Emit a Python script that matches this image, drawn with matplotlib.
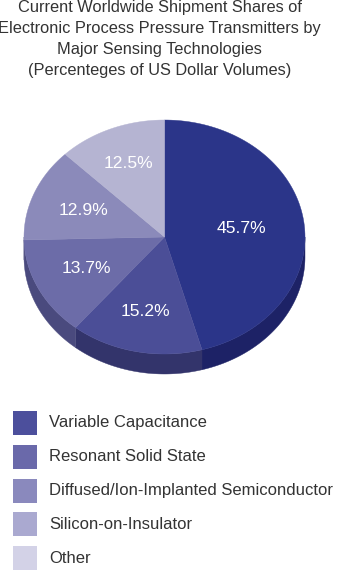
"""
3D-style pie: worldwide shipment shares of pressure transmitters by sensing technology.
"""
import matplotlib
matplotlib.use("Agg")
import matplotlib.pyplot as plt
import numpy as np
from matplotlib.patches import Polygon, Rectangle

# --- data ---
TITLE = ("Current Worldwide Shipment Shares of\n"
         "Electronic Process Pressure Transmitters by\n"
         "Major Sensing Technologies\n"
         "(Percenteges of US Dollar Volumes)")
SHARES = [45.7, 15.2, 13.7, 12.9, 12.5]
SLICE_TOP = ["#2b3589", "#4b4e97", "#6c6ca8", "#8b8aba", "#b5b4d2"]
SLICE_SIDE = ["#1d2266", "#33346b", "#4a4a7e", "#5f5e8e", "#7c7ba3"]
LEGEND_LABELS = ["Variable Capacitance", "Resonant Solid State",
                 "Diffused/Ion-Implanted Semiconductor", "Silicon-on-Insulator", "Other"]
LEGEND_COLORS = ["#4c4f9c", "#6a69aa", "#8a89bd", "#aaa9d0", "#d3d2e7"]

W, H = 338, 571
FONT = ["Liberation Sans", "DejaVu Sans"]
TXT = "#333333"

# pie geometry (pixels)
cx, cy = 164.5, 237.0
a, b = 140.5, 117.0
depth = 20.0
label_frac = [0.55, 0.65, 0.62, 0.62, 0.68]

fig = plt.figure(figsize=(W / 100, H / 100), dpi=100)
ax = fig.add_axes([0, 0, 1, 1])
ax.set_xlim(0, W)
ax.set_ylim(H, 0)
ax.axis("off")

fig.text(0.473, 1 - 39 / H, TITLE, ha="center", va="center", fontsize=11.8,
         color=TXT, family=FONT, linespacing=1.5)


def pt(theta, dz=0.0):
    return cx + a * np.cos(theta), cy - b * np.sin(theta) + dz


# angles: start at 12 o'clock, go clockwise
fracs = np.array(SHARES) / sum(SHARES)
ends = np.pi / 2 - 2 * np.pi * np.cumsum(fracs)
starts = np.concatenate([[np.pi / 2], ends[:-1]])

# side walls (front half only: sin(theta) < 0)
for i, (s, e) in enumerate(zip(starts, ends)):
    lo, hi = e, s  # e < s
    for shift in (0, -2 * np.pi, 2 * np.pi):
        l2, h2 = max(lo + shift, -np.pi), min(hi + shift, 0)
        if h2 > l2:
            t = np.linspace(l2, h2, 80)
            xs, ys = pt(t)
            top = np.column_stack([xs, ys])
            bot = np.column_stack([xs, ys + depth])[::-1]
            ax.add_patch(Polygon(np.vstack([top, bot]), closed=True,
                                 facecolor=SLICE_SIDE[i], edgecolor=SLICE_SIDE[i],
                                 lw=0.3, zorder=1))

# top faces
for i, (s, e) in enumerate(zip(starts, ends)):
    t = np.linspace(s, e, 120)
    xs, ys = pt(t)
    poly = np.vstack([[cx, cy], np.column_stack([xs, ys])])
    ax.add_patch(Polygon(poly, closed=True, facecolor=SLICE_TOP[i],
                         edgecolor=SLICE_TOP[i], lw=0.3, zorder=2))
    mid = (s + e) / 2
    lx = cx + label_frac[i] * a * np.cos(mid)
    ly = cy - label_frac[i] * b * np.sin(mid)
    ax.text(lx, ly, f"{SHARES[i]:.1f}%", ha="center", va="center",
            color="white", fontsize=12.6, family=FONT, zorder=3)

# legend
for k, (lab, col) in enumerate(zip(LEGEND_LABELS, LEGEND_COLORS)):
    yc = 423 + k * 33.8
    ax.add_patch(Rectangle((13, yc - 12), 24, 24, facecolor=col, edgecolor="none"))
    ax.text(49, yc, lab, ha="left", va="center", fontsize=12.0, color=TXT, family=FONT)

fig.savefig("out.png", dpi=100, facecolor="white")
